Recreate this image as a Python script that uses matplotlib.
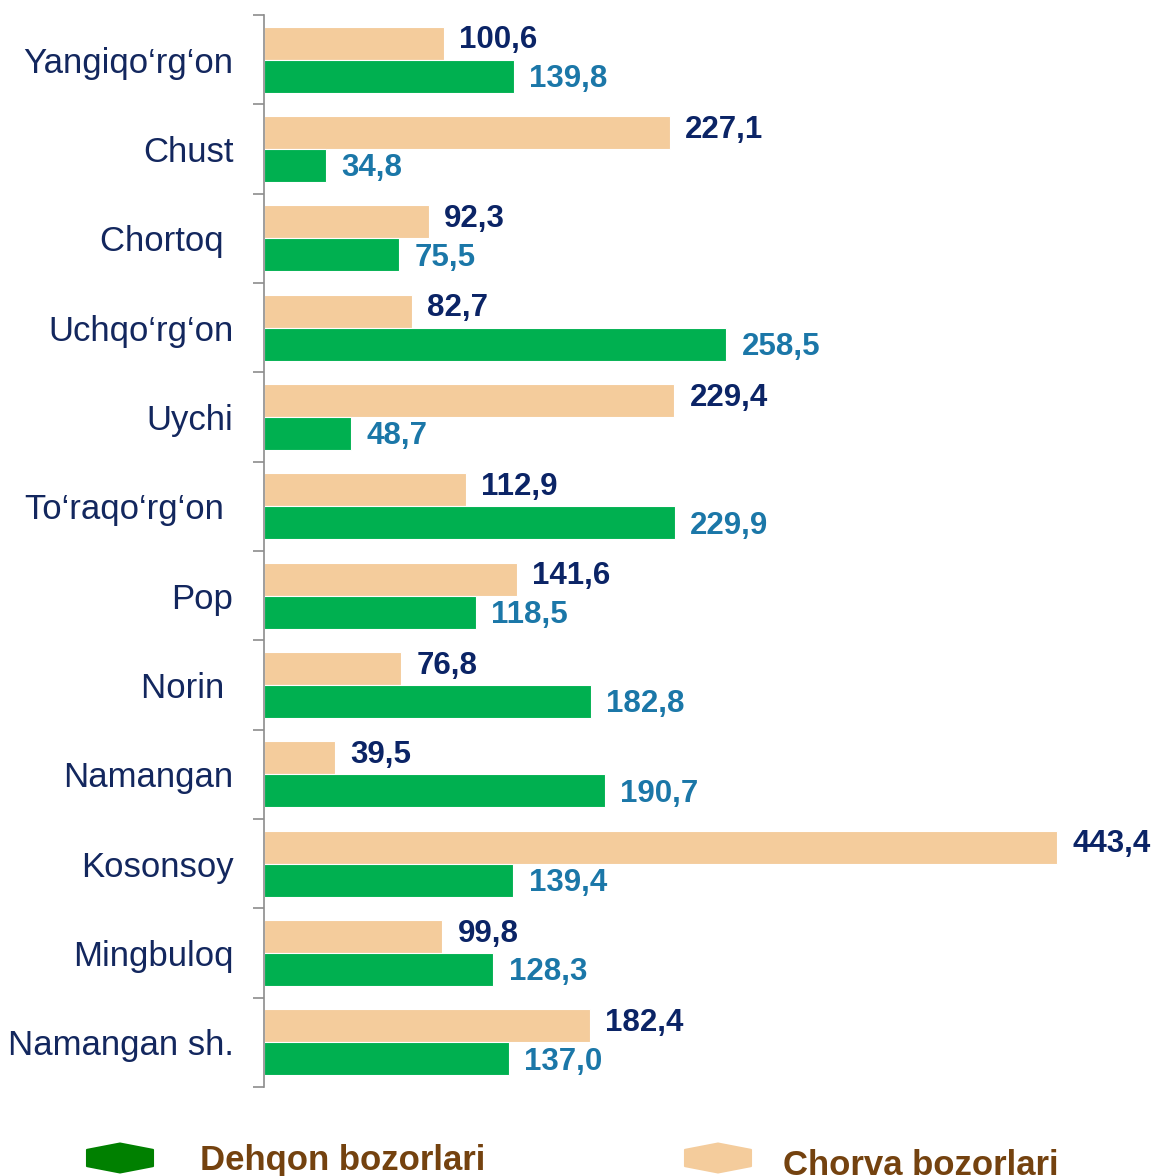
import matplotlib
matplotlib.use("Agg")
import matplotlib.pyplot as plt
from matplotlib.patches import Polygon
import numpy as np

# ── data ──────────────────────────────────────────────────────────────────────
districts = ["Yangiqo‘rg‘on", "Chust", "Chortoq ", "Uchqo‘rg‘on", "Uychi",
             "To‘raqo‘rg‘on ", "Pop", "Norin ", "Namangan", "Kosonsoy",
             "Mingbuloq", "Namangan sh."]
dehqon = [139.8, 34.8, 75.5, 258.5, 48.7, 229.9, 118.5, 182.8, 190.7, 139.4, 128.3, 137.0]
chorva = [100.6, 227.1, 92.3, 82.7, 229.4, 112.9, 141.6, 76.8, 39.5, 443.4, 99.8, 182.4]
legend_labels = ["Dehqon bozorlari", "Chorva bozorlari"]

GREEN   = "#00b050"
PEACH   = "#f4cc9c"
NAVY    = "#0b2466"
TEAL    = "#1b77a8"
CATCOL  = "#13275e"
BROWN   = "#74420f"
FONT    = "Liberation Sans"

W, H = 1154, 1176
fig = plt.figure(figsize=(W / 100, H / 100), dpi=100)
ax = fig.add_axes([264 / W, 1 - 1087 / H, (1150 - 264) / W, (1087 - 15) / H])

n = len(districts)
y = np.arange(n)
bh = 0.37
ax.barh(y - bh / 2, chorva, height=bh, color=PEACH, edgecolor="white", linewidth=0.8)
ax.barh(y + bh / 2, dehqon, height=bh, color=GREEN, edgecolor="white", linewidth=0.8)

ax.set_xlim(0, (1150 - 264) / 1.788)
ax.set_ylim(n - 0.5, -0.5)

fmt = lambda v: f"{v:.1f}".replace(".", ",")
for i in range(n):
    ax.annotate(fmt(chorva[i]), (chorva[i], i - bh / 2), xytext=(11, 2),
                textcoords="offset points", va="center", ha="left",
                fontsize=22.5, fontweight="bold", color=NAVY, family=FONT,
                annotation_clip=False)
    ax.annotate(fmt(dehqon[i]), (dehqon[i], i + bh / 2), xytext=(11, -2),
                textcoords="offset points", va="center", ha="left",
                fontsize=22.5, fontweight="bold", color=TEAL, family=FONT,
                annotation_clip=False)

# axis styling
for s in ["top", "right", "bottom"]:
    ax.spines[s].set_visible(False)
ax.spines["left"].set_color("#8c8c8c")
ax.spines["left"].set_linewidth(1.2)
ax.set_xticks([])
ax.set_yticks(y)
ax.set_yticklabels(districts, fontsize=25, color=CATCOL, family=FONT)
ax.tick_params(axis="y", which="major", length=0, pad=22)
ax.set_yticks(np.arange(-0.5, n, 1), minor=True)
ax.tick_params(axis="y", which="minor", length=8, width=1.2, color="#8c8c8c")

# legend (custom hexagons)
def hexagon(cx, cy, w, h, color):
    pts = [(cx - w / 2, cy - h * 0.28), (cx, cy - h / 2), (cx + w / 2, cy - h * 0.28),
           (cx + w / 2, cy + h * 0.28), (cx, cy + h / 2), (cx - w / 2, cy + h * 0.28)]
    pts = [(px / W, 1 - py / H) for px, py in pts]
    fig.add_artist(Polygon(pts, closed=True, facecolor=color, edgecolor=color,
                           linewidth=1.5, joinstyle="round",
                           transform=fig.transFigure))

hexagon(120, 1158, 66, 29, "#008000")
hexagon(718, 1158, 66, 29, PEACH)
fig.text(200 / W, 1 - 1170 / H, legend_labels[0], fontsize=25, fontweight="bold",
         color=BROWN, family=["Liberation Sans Narrow", FONT], va="baseline")
fig.text(783 / W, 1 - 1175 / H, legend_labels[1], fontsize=25, fontweight="bold",
         color=BROWN, family=["Liberation Sans Narrow", FONT], va="baseline")

fig.savefig("out.png", dpi=100)
